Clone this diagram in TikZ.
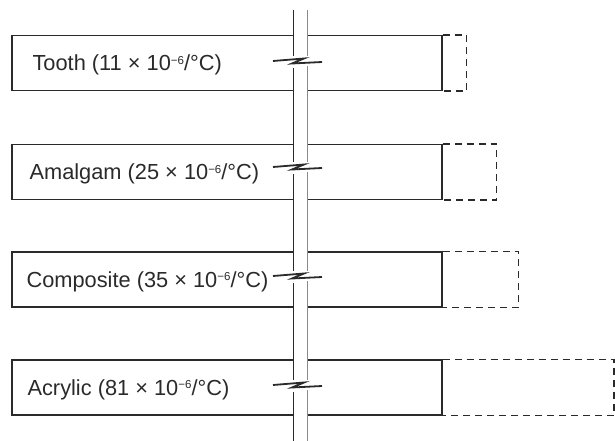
\documentclass[tikz,border=0pt]{standalone}
\usepackage{fontspec}
\setmainfont{Liberation Sans}
\usetikzlibrary{positioning,calc}
\definecolor{Ink}{HTML}{2A2A2A}
\tikzset{
  matbar/.style={draw=Ink,line width=1.3pt,minimum width=430pt,minimum height=55pt,inner sep=0pt},
  matlabel/.style={anchor=west,inner sep=0pt,font=\fontsize{21.8}{23}\selectfont,text=Ink},
  expandline/.style={draw=Ink,line width=1.5pt,dash pattern=on 7pt off 5pt},
  breakmark/.style={draw=Ink,line width=1.8pt,line join=miter},
}
% one bar with its label and the dashed outline of its expansion
\newcommand{\MatBar}[5]{%
  \node[matbar] (#1) at (227,#2) {};
  \node[matlabel] (#1-lbl) at ($(#1.west)+(#3,2)$) {#4};
  \draw[expandline] (#1.north east) -- ++(#5,0) -- ($(#1.south east)+(#5,0)$) -- (#1.south east);
}
\newcommand{\BreakAt}[1]{%
  \draw[breakmark] (273,#1+1) -- (304,#1-1.5) -- (292,#1+3.5) -- (322,#1+2);
}
\newcommand{\Expo}{\raisebox{0.55ex}{\fontsize{11.5}{12}\selectfont −6}}

\begin{document}
\begin{tikzpicture}[x=1pt,y=-1pt]
\useasboundingbox (0,0) rectangle (615,441);
\MatBar{tooth}{63}{21}{Tooth (11 × 10\Expo/°C)}{24}
\MatBar{amalgam}{172}{18}{Amalgam (25 × 10\Expo/°C)}{54}
\MatBar{composite}{279.5}{15}{Composite (35 × 10\Expo/°C)}{76}
\MatBar{acrylic}{387.5}{16}{Acrylic (81 × 10\Expo/°C)}{171.5}
% the strip through all bars
\fill[white] (293,10) rectangle (307,441);
\foreach \y in {60,166,275,384} {
  \fill[white] (290,\y-4) rectangle (310,\y+7);
}
\draw[Ink,line width=1pt] (293,10) -- (293,56) (293,68) -- (293,162) (293,174) -- (293,271) (293,283) -- (293,380) (293,392) -- (293,441);
\draw[Ink!55,line width=1pt] (307,10) -- (307,56) (307,66) -- (307,162) (307,172) -- (307,271) (307,281) -- (307,380) (307,390) -- (307,441);
\foreach \y in {60,166,275,384} {
  \BreakAt{\y}
}
\end{tikzpicture}
\end{document}
